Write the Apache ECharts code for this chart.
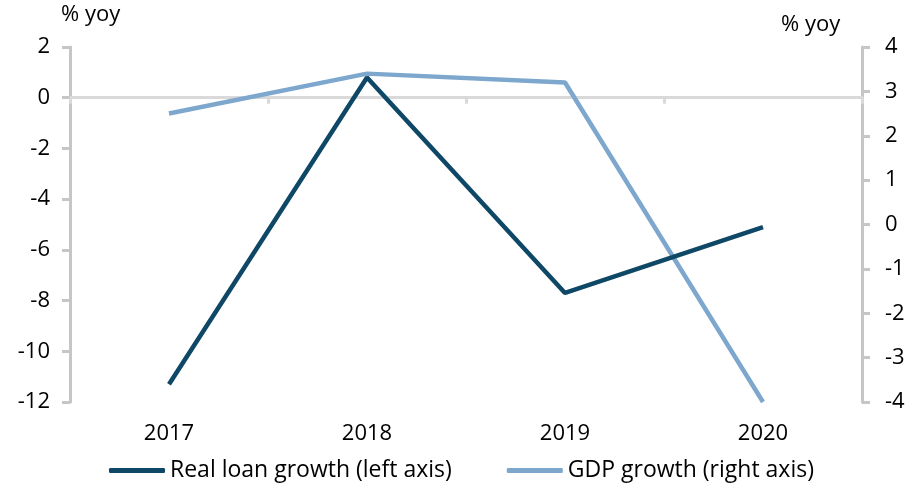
<!DOCTYPE html>
<html>
<head>
<meta charset="utf-8">
<script src="https://cdn.jsdelivr.net/npm/echarts@6/dist/echarts.min.js"></script>
<style>
  html, body { margin: 0; padding: 0; background: #fff; }
  #chart { width: 913px; height: 483px; }
</style>
</head>
<body>
<div id="chart"></div>
<script>
// Annual figures, % yoy
const years = ['2017', '2018', '2019', '2020'];
const realLoanGrowth = [-11.3, 0.8, -7.7, -5.1];   // left axis
const gdpGrowth = [2.5, 3.4, 3.2, -4.0];          // right axis

const leftTicks = { min: -12, max: 2, interval: 2 };
const rightTicks = { min: -4, max: 4, interval: 1 };

const FONT = '"Open Sans", Lato, sans-serif';
const FS = 22;
const LEGEND_FS = 23;
const AXIS_GREY = '#c6c6c6';
const ZERO_GREY = '#d9d9d9';
const DARK = '#0e4866';
const LIGHT = '#7ea7cd';

const chart = echarts.init(document.getElementById('chart'));

chart.setOption({
  animation: false,
  backgroundColor: '#ffffff',
  textStyle: { fontFamily: FONT },
  grid: { left: 70, right: 51, top: 47, bottom: 81, containLabel: false },
  graphic: [
    { type: 'text', left: 61, top: 4,
      style: { text: '% yoy', fontSize: FS, fontFamily: FONT, fill: '#000' } },
    { type: 'text', left: 781, top: 14,
      style: { text: '% yoy', fontSize: FS, fontFamily: FONT, fill: '#000' } }
  ],
  legend: {
    left: 104, top: 454,
    itemWidth: 56, itemHeight: 5, itemGap: 55,
    icon: 'roundRect',
    textStyle: { fontSize: LEGEND_FS, fontFamily: FONT, color: '#000' },
    data: ['Real loan growth (left axis)', 'GDP growth (right axis)']
  },
  xAxis: [
    {
      // category labels along the bottom
      type: 'category', data: years, position: 'bottom',
      axisLine: { show: false, onZero: false },
      axisTick: { show: false },
      axisLabel: { fontSize: FS, color: '#000', margin: 21, fontFamily: FONT },
      splitLine: { show: false }
    },
    {
      // baseline at zero with category ticks
      type: 'category', data: years, position: 'bottom',
      axisLine: { show: true, onZero: true, onZeroAxisIndex: 0,
        lineStyle: { color: ZERO_GREY, width: 3 } },
      axisTick: { show: true, length: 6, lineStyle: { color: ZERO_GREY, width: 3 } },
      axisLabel: { show: false },
      splitLine: { show: false }
    }
  ],
  yAxis: [
    {
      type: 'value', position: 'left',
      min: leftTicks.min, max: leftTicks.max, interval: leftTicks.interval,
      axisLine: { show: true, lineStyle: { color: AXIS_GREY, width: 3 } },
      axisTick: { show: true, length: 8, lineStyle: { color: AXIS_GREY, width: 3 } },
      axisLabel: { fontSize: FS, color: '#000', margin: 20, fontFamily: FONT },
      splitLine: { show: false }
    },
    {
      type: 'value', position: 'right',
      min: rightTicks.min, max: rightTicks.max, interval: rightTicks.interval,
      axisLine: { show: true, lineStyle: { color: AXIS_GREY, width: 3 } },
      axisTick: { show: true, length: 8, lineStyle: { color: AXIS_GREY, width: 3 } },
      axisLabel: { fontSize: FS, color: '#000', margin: 23, fontFamily: FONT },
      splitLine: { show: false }
    }
  ],
  series: [
    {
      name: 'Real loan growth (left axis)', type: 'line',
      xAxisIndex: 0, yAxisIndex: 0,
      data: realLoanGrowth, showSymbol: false, symbol: 'none',
      color: DARK,
      lineStyle: { color: DARK, width: 4.5 }, z: 3
    },
    {
      name: 'GDP growth (right axis)', type: 'line',
      xAxisIndex: 0, yAxisIndex: 1,
      data: gdpGrowth, showSymbol: false, symbol: 'none',
      color: LIGHT,
      lineStyle: { color: LIGHT, width: 4.5 }, z: 2
    }
  ]
});
</script>
</body>
</html>
